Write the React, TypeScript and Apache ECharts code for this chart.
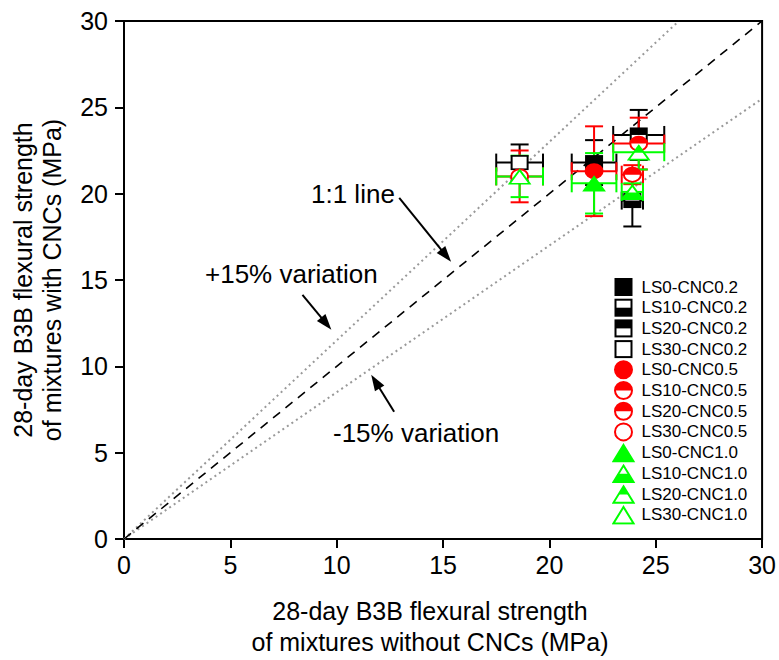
import React, { useEffect, useRef } from "react";
import * as echarts from "echarts";

// Limestone replacement levels (one x value each) and CNC dosages (one colour each)
const lsLevels = ["LS0", "LS10", "LS20", "LS30"];
const cncLevels = ["CNC0.2", "CNC0.5", "CNC1.0"];

// 28-day strength of the plain mixtures (x) with their standard deviations
const strengthPlain = [22.1, 23.9, 24.2, 18.6];
const strengthPlainSd = [1.05, 0.5, 1.2, 1.1];

// 28-day strength of the CNC mixtures (y) with their standard deviations
const strengthCnc02 = [21.8, 19.6, 23.4, 21.8];
const strengthCnc02Sd = [1.3, 1.5, 1.45, 1.05];
const strengthCnc05 = [21.3, 21.1, 22.9, 21.0];
const strengthCnc05Sd = [2.6, 0.55, 1.5, 1.5];
const strengthCnc10 = [20.6, 20.1, 22.4, 21.0];
const strengthCnc10Sd = [1.75, 0.5, 1.0, 1.2];

const cncValues = [strengthCnc02, strengthCnc05, strengthCnc10];
const cncSds = [strengthCnc02Sd, strengthCnc05Sd, strengthCnc10Sd];

// Reference lines: equality and +/-15 % bands
const lineEqual = [[0, 0], [30, 30]];
const linePlus15 = [[0, 0], [30 / 1.15, 30]];
const lineMinus15 = [[0, 0], [30, 25.5]];

// Annotation arrows (data coordinates)
const arrowStarts = [[12.94, 19.75], [8.39, 14.14], [12.7, 7.37]];
const arrowEnds = [[15.14, 16.41], [9.51, 12.47], [11.82, 9.12]];

const axisTicks = [0, 5, 10, 15, 20, 25, 30];

const FONT = "'Liberation Sans', Arial, Helvetica, sans-serif";
const cncColors = ["#000000", "#ff0000", "#00ff00"];
const cncShapes = ["square", "circle", "triangle"];
const fillModes: Record<string, string[]> = {
  square: ["full", "bottom", "top", "none"],
  circle: ["full", "top", "top", "none"],
  triangle: ["full", "bottom", "top", "none"],
};

function markerSvg(shape: string, mode: string, c: string): string {
  let body = "";
  if (shape === "square") {
    body += `<rect x="4" y="2" width="16" height="16" fill="#ffffff"/>`;
    if (mode === "full") body += `<rect x="4" y="2" width="16" height="16" fill="${c}"/>`;
    if (mode === "top") body += `<rect x="4" y="2" width="16" height="8" fill="${c}"/>`;
    if (mode === "bottom") body += `<rect x="4" y="10" width="16" height="8" fill="${c}"/>`;
    body += `<rect x="4" y="2" width="16" height="16" fill="none" stroke="${c}" stroke-width="2"/>`;
  } else if (shape === "circle") {
    body += `<circle cx="12" cy="10" r="8.5" fill="#ffffff"/>`;
    if (mode === "full") body += `<circle cx="12" cy="10" r="8.5" fill="${c}"/>`;
    if (mode === "top") body += `<path d="M3.5 10 A8.5 8.5 0 0 1 20.5 10 Z" fill="${c}"/>`;
    if (mode === "bottom") body += `<path d="M3.5 10 A8.5 8.5 0 0 0 20.5 10 Z" fill="${c}"/>`;
    body += `<circle cx="12" cy="10" r="8.5" fill="none" stroke="${c}" stroke-width="2"/>`;
  } else {
    const outline = "12,2.3 22.1,18.8 1.9,18.8";
    body += `<polygon points="${outline}" fill="#ffffff"/>`;
    if (mode === "full") body += `<polygon points="${outline}" fill="${c}"/>`;
    if (mode === "top") body += `<polygon points="12,2.3 17.05,10.55 6.95,10.55" fill="${c}"/>`;
    if (mode === "bottom") body += `<polygon points="6.95,10.55 17.05,10.55 22.1,18.8 1.9,18.8" fill="${c}"/>`;
    body += `<polygon points="${outline}" fill="none" stroke="${c}" stroke-width="2"/>`;
  }
  const svg = `<svg xmlns="http://www.w3.org/2000/svg" width="24" height="20" viewBox="0 0 24 20">${body}</svg>`;
  return "image://data:image/svg+xml;charset=utf-8," + encodeURIComponent(svg);
}

function errorBarRenderer(color: string) {
  return (_params: any, api: any) => {
    const x = api.value(0);
    const y = api.value(1);
    const ex = api.value(2);
    const ey = api.value(3);
    const l = api.coord([x - ex, y]);
    const r = api.coord([x + ex, y]);
    const t = api.coord([x, y + ey]);
    const b = api.coord([x, y - ey]);
    const cap = 9;
    const style = { stroke: color, lineWidth: 2, fill: null };
    const seg = (x1: number, y1: number, x2: number, y2: number) => ({
      type: "line",
      shape: { x1, y1, x2, y2 },
      style,
    });
    return {
      type: "group",
      children: [
        seg(l[0], l[1], r[0], r[1]),
        seg(l[0], l[1] - cap, l[0], l[1] + cap),
        seg(r[0], r[1] - cap, r[0], r[1] + cap),
        seg(t[0], t[1], b[0], b[1]),
        seg(t[0] - cap, t[1], t[0] + cap, t[1]),
        seg(b[0] - cap, b[1], b[0] + cap, b[1]),
      ],
    };
  };
}

function buildOption() {
  const series: any[] = [];
  const legendData: any[] = [];

  const refLine = (data: number[][], color: string, dash: number[], width: number) => ({
    type: "line",
    data,
    showSymbol: false,
    silent: true,
    animation: false,
    lineStyle: { color, width, type: dash },
    z: 1,
  });

  series.push(refLine(linePlus15, "#999999", [2, 3.5], 2));
  series.push(refLine(lineMinus15, "#999999", [2, 3.5], 2));
  series.push({
    ...refLine(lineEqual, "#000000", [9, 7], 1.6),
    markLine: {
      silent: true,
      symbol: ["none", "triangle"],
      symbolSize: [11, 16],
      label: { show: false },
      emphasis: { disabled: true },
      lineStyle: { color: "#000000", width: 2, type: "solid" },
      data: arrowStarts.map((s, i) => [{ coord: s }, { coord: arrowEnds[i] }]),
    },
  });

  cncLevels.forEach((cnc, ci) => {
    const color = cncColors[ci];
    const shape = cncShapes[ci];
    lsLevels.forEach((ls, li) => {
      const name = `${ls}-${cnc}`;
      const icon = markerSvg(shape, fillModes[shape][li], color);
      const point = [strengthPlain[li], cncValues[ci][li], strengthPlainSd[li], cncSds[ci][li]];
      series.push({
        type: "custom",
        name: name + " sd",
        renderItem: errorBarRenderer(color),
        data: [point],
        encode: { x: 0, y: 1 },
        silent: true,
        z: 2,
      });
      series.push({
        type: "scatter",
        name,
        data: [[point[0], point[1]]],
        symbol: icon,
        symbolSize: [24, 20],
        itemStyle: { opacity: 1, color },
        silent: true,
        z: 2,
      });
      legendData.push({ name, icon });
    });
  });

  const axisCommon = {
    type: "value",
    min: 0,
    max: 30,
    interval: 5,
    axisLine: { show: true, onZero: false, lineStyle: { color: "#000", width: 2 } },
    axisTick: { show: true, inside: false, length: 9, lineStyle: { color: "#000", width: 2 } },
    splitLine: { show: false },
  };

  const txt = (text: string, x: number, y: number, size: number, align: string, rotation = 0) => ({
    type: "text",
    x,
    y,
    rotation,
    silent: true,
    style: {
      text,
      fill: "#000",
      font: `${size}px ${FONT}`,
      textAlign: align,
      textVerticalAlign: "middle",
    },
  });

  return {
    animation: false,
    backgroundColor: "#ffffff",
    textStyle: { fontFamily: FONT },
    grid: {
      left: 124,
      right: 15,
      top: 21,
      bottom: 121,
      show: true,
      borderColor: "#000",
      borderWidth: 2,
      backgroundColor: "transparent",
    },
    xAxis: {
      ...axisCommon,
      axisLabel: {
        color: "#000",
        fontSize: 25,
        fontFamily: FONT,
        margin: 13,
        customValues: axisTicks,
      },
    },
    yAxis: {
      ...axisCommon,
      axisLabel: {
        color: "#000",
        fontSize: 25,
        fontFamily: FONT,
        margin: 16,
      },
    },
    legend: {
      orient: "vertical",
      left: 611.5,
      top: 277,
      padding: 0,
      itemWidth: 24,
      itemHeight: 20,
      itemGap: 0.7,
      selectedMode: false,
      data: legendData,
      itemStyle: { opacity: 1 },
      textStyle: { fontSize: 17, fontFamily: FONT, color: "#000", padding: [0, 0, 0, 1] },
    },
    graphic: [
      txt("28-day B3B flexural strength", 430, 611, 25, "center"),
      txt("of mixtures without CNCs (MPa)", 430, 642, 25, "center"),
      txt("28-day B3B flexural strength", 23, 280, 25, "center", Math.PI / 2),
      txt("of mixtures with CNCs (MPa)", 52, 280, 25, "center", Math.PI / 2),
      txt("1:1 line", 311, 194, 26, "left"),
      txt("+15% variation", 205, 274, 26, "left"),
      txt("-15% variation", 333, 433, 26, "left"),
    ],
    series,
  };
}

export default function App() {
  const ref = useRef<HTMLDivElement>(null);
  useEffect(() => {
    if (!ref.current) return;
    const chart = echarts.init(ref.current, null, { renderer: "svg" });
    chart.setOption(buildOption() as any);
    return () => chart.dispose();
  }, []);
  return (
    <div
      ref={ref}
      style={{ position: "fixed", left: 0, top: 0, width: 779, height: 660, background: "#fff" }}
    />
  );
}
